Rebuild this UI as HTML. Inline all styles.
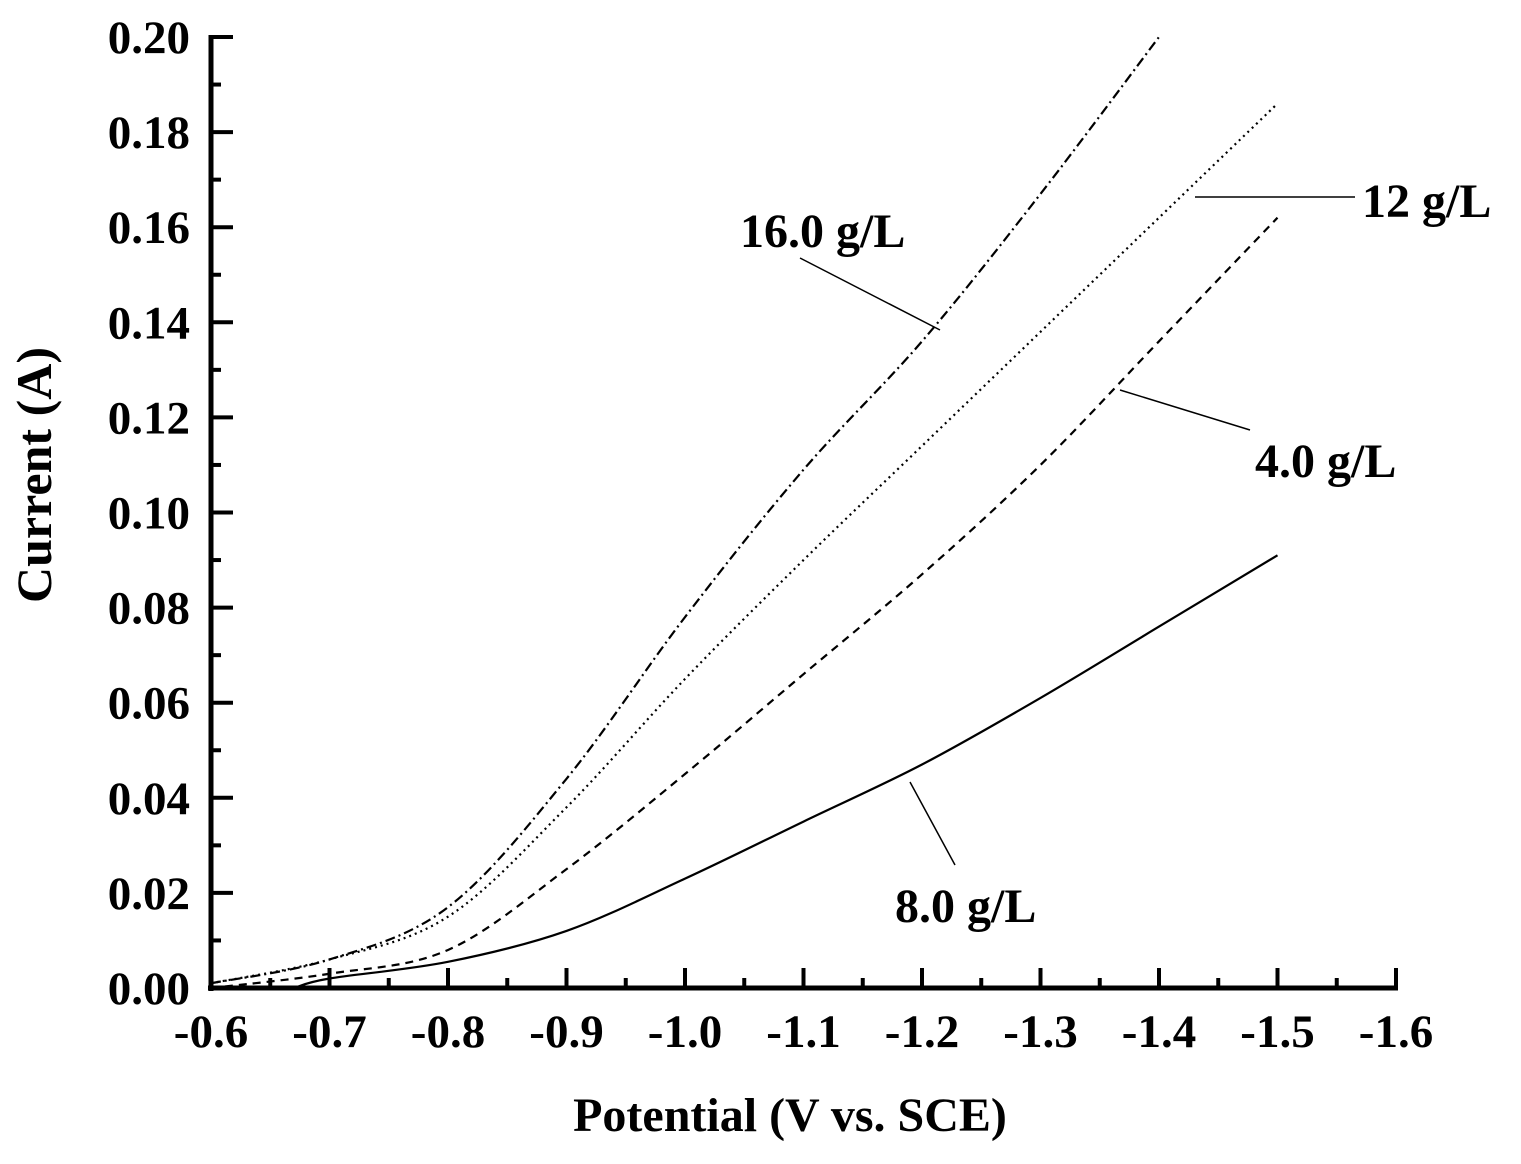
<!DOCTYPE html>
<html><head><meta charset="utf-8"><style>
body{margin:0;background:#fff}
text{font-family:"Liberation Serif",serif;font-weight:bold;fill:#000}
</style></head><body>
<svg id="s" width="1521" height="1159" xmlns="http://www.w3.org/2000/svg">
<g id="axes" stroke="#000" stroke-width="5" fill="none">
<line x1="211" y1="35" x2="211" y2="991"/>
<line x1="208" y1="988" x2="1398" y2="988"/>
</g>
<g id="ticks" stroke="#000" stroke-width="4"></g>
<g id="labels" font-size="47"></g>
<g id="curves" fill="none" stroke="#000" stroke-width="2.2"></g>
<g stroke="#000" stroke-width="1.5">
<line x1="800" y1="258" x2="940" y2="330"/>
<line x1="1195" y1="197" x2="1355" y2="197"/>
<line x1="1120" y1="390" x2="1250" y2="430"/>
<line x1="910" y1="782" x2="955" y2="865"/>
</g>
<text x="740" y="247" font-size="48">16.0 g/L</text>
<text x="1362" y="217" font-size="48">12 g/L</text>
<text x="1255" y="477" font-size="48">4.0 g/L</text>
<text x="895" y="922" font-size="48">8.0 g/L</text>
<text x="790" y="1131" font-size="48" text-anchor="middle">Potential (V vs. SCE)</text>
<text transform="translate(51,475) rotate(-90)" font-size="50" text-anchor="middle">Current (A)</text>
</svg>
<script>
const NS="http://www.w3.org/2000/svg";
const px=v=>211+(v-0.6)*1185, py=i=>988-i*4755;
function el(p,t,a,txt){const e=document.createElementNS(NS,t);for(const k in a)e.setAttribute(k,a[k]);if(txt)e.textContent=txt;document.getElementById(p).appendChild(e);}
for(let k=0;k<=20;k++){const x=211+k*59.25;if(k>0)el("ticks","line",{x1:x,y1:988,x2:x,y2:k%2?978:968});
if(k%2==0)el("labels","text",{x:x,y:1047,"text-anchor":"middle"},"-"+(0.6+k/20).toFixed(1));}
for(let k=0;k<=20;k++){const y=988-k*47.55;if(k>0)el("ticks","line",{x1:211,y1:y,x2:k%2?221:233,y2:y});
if(k%2==0)el("labels","text",{x:190,y:y+16,"text-anchor":"end"},(k/100).toFixed(2));}
function path(pts){const P=pts.map(([v,i])=>[px(v),py(i)]);let d="M"+P[0];
for(let j=0;j<P.length-1;j++){const p0=P[j-1]||P[j],p1=P[j],p2=P[j+1],p3=P[j+2]||p2;
const c1=[p1[0]+(p2[0]-p0[0])/6,p1[1]+(p2[1]-p0[1])/6],c2=[p2[0]-(p3[0]-p1[0])/6,p2[1]-(p3[1]-p1[1])/6];
d+=" C"+c1+" "+c2+" "+p2;}return d;}
const S=[
[[[0.6,0.001],[0.7,0.006],[0.8,0.017],[0.9,0.044],[1.0,0.078],[1.1,0.109],[1.2,0.136],[1.3,0.167],[1.4,0.2]],"10 4 2 4"],
[[[0.6,0.001],[0.7,0.006],[0.8,0.015],[0.9,0.038],[1.0,0.065],[1.1,0.09],[1.2,0.114],[1.3,0.138],[1.4,0.162],[1.5,0.186]],"2 4"],
[[[0.6,0.0],[0.7,0.003],[0.8,0.008],[0.9,0.025],[1.0,0.045],[1.1,0.066],[1.2,0.087],[1.3,0.11],[1.4,0.136],[1.5,0.162]],"8 6"],
[[[0.67,0.0],[0.7,0.002],[0.8,0.0055],[0.9,0.012],[1.0,0.023],[1.1,0.035],[1.2,0.047],[1.3,0.061],[1.4,0.076],[1.5,0.091]],""]];
S.forEach(([p,da])=>{const a={d:path(p)};if(da)a["stroke-dasharray"]=da;el("curves","path",a);});
</script>
</body></html>
